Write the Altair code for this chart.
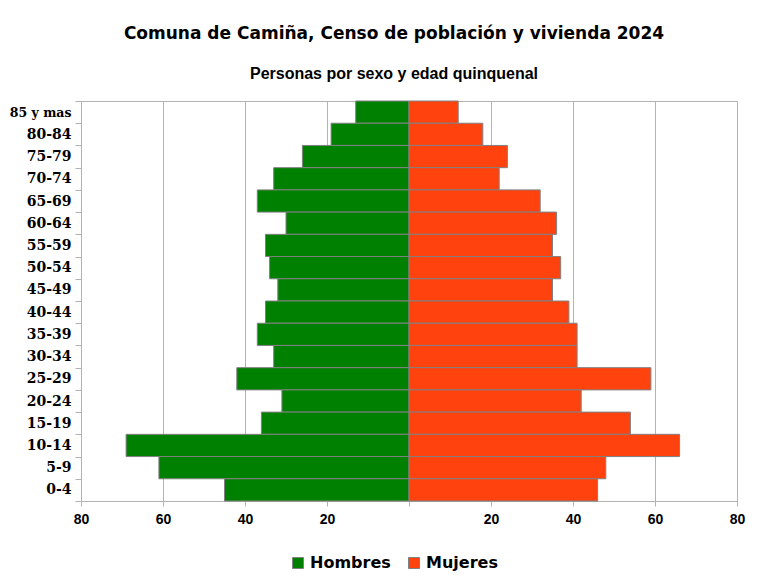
import altair as alt
import pandas as pd

ages = ["85 y mas", "80-84", "75-79", "70-74", "65-69", "60-64", "55-59", "50-54",
        "45-49", "40-44", "35-39", "30-34", "25-29", "20-24", "15-19", "10-14", "5-9", "0-4"]
hombres = [13, 19, 26, 33, 37, 30, 35, 34, 32, 35, 37, 33, 42, 31, 36, 69, 61, 45]
mujeres = [12, 18, 24, 22, 32, 36, 35, 37, 35, 39, 41, 41, 59, 42, 54, 66, 48, 46]
x_ticks = [-80, -60, -40, -20, 0, 20, 40, 60, 80]
sexos = ["Hombres", "Mujeres"]
colores = ["#008000", "#ff420e"]

rows = []
for a, h, m in zip(ages, hombres, mujeres):
    rows.append({"edad": a, "sexo": "Hombres", "valor": -h})
    rows.append({"edad": a, "sexo": "Mujeres", "valor": m})
df = pd.DataFrame(rows)

grey = "#b3b3b3"

chart = alt.Chart(df).mark_bar(stroke="#808080", strokeWidth=1).encode(
    y=alt.Y("edad:N", sort=ages, title=None,
            scale=alt.Scale(paddingInner=0, paddingOuter=0),
            axis=alt.Axis(tickBand="extent", tickSize=6, tickColor=grey, domainColor=grey,
                          grid=False, labelFont="DejaVu Serif", labelFontWeight="bold",
                          labelFontSize={"condition": {"test": "datum.value == '85 y mas'", "value": 12.5},
                                         "value": 14},
                          labelColor="black", labelPadding=4)),
    x=alt.X("valor:Q", stack=None, title=None,
            scale=alt.Scale(domain=[-80, 80], nice=False),
            axis=alt.Axis(values=x_ticks, labelExpr="datum.value == 0 ? '' : abs(datum.value)",
                          labelFlush=False,
                          tickSize=5, tickColor=grey, domainColor=grey, gridColor=grey,
                          labelFont="Liberation Sans", labelFontWeight="bold", labelFontSize=14,
                          labelColor="black", labelPadding=6)),
    color=alt.Color("sexo:N", scale=alt.Scale(domain=sexos, range=colores), title=None,
                    legend=alt.Legend(orient="none", legendX=209, legendY=454, direction="horizontal",
                                      symbolType="square", symbolSize=121, symbolStrokeColor="#808080",
                                      symbolStrokeWidth=1, labelFont="DejaVu Sans", labelFontWeight="bold",
                                      labelFontSize=16, labelColor="black", labelOffset=4,
                                      columnPadding=15)),
).properties(
    width=656, height=400,
    autosize=alt.AutoSizeParams(type="none"),
    padding={"left": 73, "top": 93, "right": 30, "bottom": 76},
    title=alt.TitleParams(
        text="Comuna de Camiña, Censo de población y vivienda 2024",
        subtitle="Personas por sexo y edad quinquenal",
        anchor="middle", dx=-15, offset=11,
        font="DejaVu Sans", fontWeight="bold", fontSize=17, color="black",
        subtitleFont="Liberation Sans", subtitleFontWeight="bold", subtitleFontSize=16,
        subtitleColor="black", subtitlePadding=23,
    ),
).configure_view(stroke=grey)

chart.save("out.html", embed_options={"renderer": "svg", "actions": False})
